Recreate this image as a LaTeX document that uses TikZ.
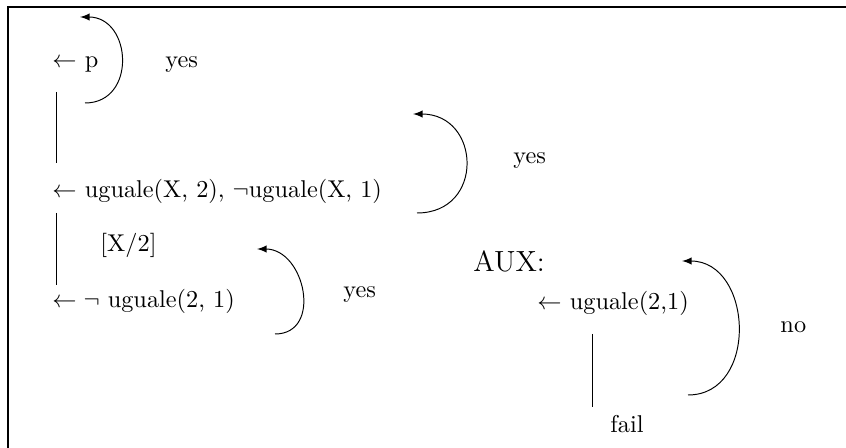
\documentclass[tikz,border=0pt]{standalone}
\usetikzlibrary{arrows}
\begin{document}
\begin{tikzpicture}[x=0.4115pt,y=-0.4115pt,
  txt/.style={anchor=base west,inner sep=0pt},
  conn/.style={line width=0.4pt},
  loopback/.style={line width=0.4pt,-latex},
  frame/.style={line width=0.8pt}]
\useasboundingbox (0,0) rectangle (846,448);
% frame (partially cropped)
\coordinate (fb) at (8,448);
\coordinate (ftl) at (8,7);
\coordinate (fr) at (846,7);
\draw[frame] (fb) -- (ftl) -- (fr);
% texts
\node[txt] (n1) at (52,68) {$\leftarrow$ p};
\node[txt] (y1) at (165,68) {yes};
\node[txt] (n2) at (52,198) {$\leftarrow$ uguale(X, 2), $\neg$uguale(X, 1)};
\node[txt] (sub) at (100,252) {[X/2]};
\node[txt] (n3) at (52,308) {$\leftarrow\neg$ uguale(2, 1)};
\node[txt] (y2) at (513,164) {yes};
\node[txt] (y3) at (343,298) {yes};
\node[txt] (aux) at (473,272) {\large AUX:};
\node[txt] (n4) at (537,310) {$\leftarrow$ uguale(2,1)};
\node[txt] (no) at (780,333) {no};
\node[txt] (fail) at (610,433) {fail};
% vertical connectors
\coordinate (v1a) at (56,92);  \coordinate (v1b) at (56,163);
\coordinate (v2a) at (56,213); \coordinate (v2b) at (56,285);
\coordinate (v3a) at (592,334); \coordinate (v3b) at (592,407);
\draw[conn] (v1a) -- (v1b);
\draw[conn] (v2a) -- (v2b);
\draw[conn] (v3a) -- (v3b);
% loop arcs
\coordinate (a1s) at (85,103);  \coordinate (a1e) at (80,17);
\coordinate (a2s) at (417,213); \coordinate (a2e) at (413,114);
\coordinate (a3s) at (275,334); \coordinate (a3e) at (257,249);
\coordinate (a4s) at (688,395); \coordinate (a4e) at (682,261);
\draw[loopback] (a1s) .. controls +(52,0) and +(52,0) .. (a1e);
\draw[loopback] (a2s) .. controls +(68,0) and +(68,0) .. (a2e);
\draw[loopback] (a3s) .. controls +(48,0) and +(48,0) .. (a3e);
\draw[loopback] (a4s) .. controls +(71,0) and +(71,0) .. (a4e);
\end{tikzpicture}
\end{document}
